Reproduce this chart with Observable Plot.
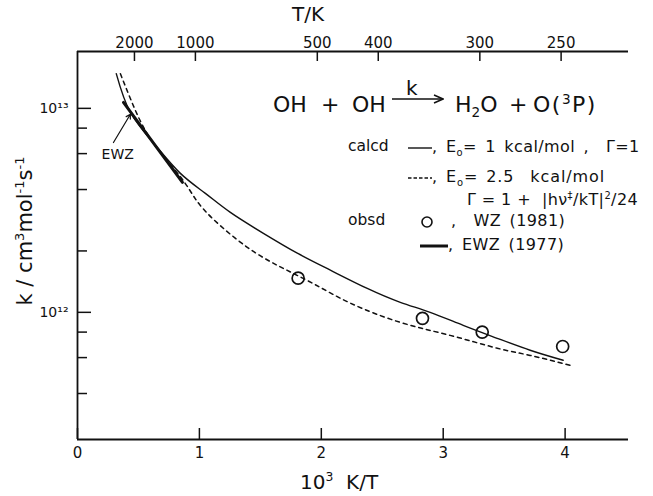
<!DOCTYPE html>
<html><head><meta charset="utf-8">
<script src="https://cdn.jsdelivr.net/npm/d3@7"></script>
<script src="https://cdn.jsdelivr.net/npm/@observablehq/plot@0.6"></script>
<style>
html,body{margin:0;padding:0;background:#fff;}
#wrap{position:relative;width:653px;height:496px;font-family:"DejaVu Sans",sans-serif;color:#111;overflow:hidden;}
#wrap > svg.chart{position:absolute;left:0;top:0;}
.t{position:absolute;white-space:nowrap;line-height:1;transform:translateY(-50%);}
.t svg{display:inline-block;vertical-align:middle;}
.lg{letter-spacing:0.4px;word-spacing:3px;}
sub,sup{font-size:62%;line-height:0;}
</style></head><body><div id="wrap"></div>
<script>
// 10^3 K/T positions and rate constants k (cm^3 mol^-1 s^-1)
const solidX = [0.318, 0.434, 0.639, 0.844, 1.049, 1.254, 1.525, 1.803, 2.074, 2.377, 2.648, 2.893, 3.164, 3.443, 3.713, 3.984];
const solidK = [14.8e12, 9.55e12, 6.59e12, 4.80e12, 3.83e12, 3.09e12, 2.44e12, 1.95e12, 1.61e12, 1.31e12, 1.12e12, 1.00e12, 0.863e12, 0.746e12, 0.652e12, 0.582e12];
const dashX = [0.352, 0.475, 0.626, 0.844, 0.967, 1.117, 1.39, 1.664, 1.937, 2.238, 2.648, 3.057, 3.443, 3.713, 4.041];
const dashK = [14.79e12, 9.77e12, 6.71e12, 4.62e12, 3.60e12, 2.85e12, 2.09e12, 1.67e12, 1.38e12, 1.11e12, 0.893e12, 0.771e12, 0.667e12, 0.615e12, 0.550e12];
const obsX = [1.81, 2.83, 3.32, 3.98];
const obsK = [1.47e12, 0.935e12, 0.80e12, 0.68e12];
const ewzX = [0.377, 0.861];
const ewzK = [1.07e13, 4.34e12];
// tick values / labels
const xTicks = [0, 1, 2, 3, 4];
const topT = [2000, 1000, 500, 400, 300, 250];
const yMajor = [1e12, 1e13];
const yMajorLabels = ["10\u00B9\u00B2", "10\u00B9\u00B3"];
const yMinor = [4e11, 6e11, 8e11, 2e12, 4e12, 6e12, 8e12];
// annotation (EWZ pointer) in data coordinates
const ewzArrowFrom = [0.295, 6.8e12];
const ewzArrowTo = [0.434, 9.35e12];
const ewzLabelAt = [0.33, 5.95e12];

const solid = solidX.map((x, i) => ({x, k: solidK[i]}));
const dashed = dashX.map((x, i) => ({x, k: dashK[i]}));
const obs = obsX.map((x, i) => ({x, k: obsK[i]}));
const ewz = ewzX.map((x, i) => ({x, k: ewzK[i]}));
const topPos = topT.map(t => 1000 / t);
const yDom = [2.38e11, 1.9e13];
const ink = "#111";
const W = 653, H = 496, mL = 77, mR = 25, mT = 51, mB = 57;
const fw = W - mL - mR, fh = H - mT - mB;

const chart = Plot.plot({
  width: W, height: H,
  marginLeft: mL, marginRight: mR, marginTop: mT, marginBottom: mB,
  className: "chart",
  style: {fontFamily: "DejaVu Sans, sans-serif", color: ink, background: "transparent", overflow: "visible"},
  x: {domain: [0, 4.52]},
  y: {type: "log", domain: yDom},
  marks: [
    Plot.ruleX([0], {stroke: ink, strokeWidth: 1.8}),
    Plot.ruleY(yDom, {stroke: ink, strokeWidth: 1.8}),
    // inward tick marks
    Plot.ruleX(xTicks, {x: d => d, insetTop: fh - 11, stroke: ink, strokeWidth: 1.5}),
    Plot.ruleX(topPos, {x: d => d, insetBottom: fh - 10, dx: -4, stroke: ink, strokeWidth: 1.5}),
    Plot.ruleY(yMajor, {y: d => d, insetRight: fw - 14, stroke: ink, strokeWidth: 1.5}),
    Plot.ruleY(yMinor, {y: d => d, insetRight: fw - 10, stroke: ink, strokeWidth: 1.5}),
    // tick labels
    Plot.axisX(xTicks, {anchor: "bottom", tickSize: 0, tickPadding: 8, fontSize: 15, label: null, tickFormat: d => String(d)}),
    Plot.axisX(topPos, {anchor: "top", tickSize: 0, tickPadding: 4, dx: -4, fontSize: 15, label: null, tickFormat: d => String(topT[topPos.indexOf(d)])}),
    Plot.axisY(yMajor, {anchor: "left", tickSize: 0, tickPadding: 9, fontSize: 14, label: null, tickFormat: d => yMajorLabels[yMajor.indexOf(d)]}),
    // data
    Plot.line(solid, {x: "x", y: "k", curve: "natural", stroke: ink, strokeWidth: 1.4}),
    Plot.line(dashed, {x: "x", y: "k", curve: "natural", stroke: ink, strokeWidth: 1.5, strokeDasharray: "4,4"}),
    Plot.line(ewz, {x: "x", y: "k", stroke: ink, strokeWidth: 3}),
    Plot.dot(obs, {x: "x", y: "k", r: 6, stroke: ink, strokeWidth: 1.7, fill: "none"}),
    Plot.arrow([0], {x1: () => ewzArrowFrom[0], y1: () => ewzArrowFrom[1], x2: () => ewzArrowTo[0], y2: () => ewzArrowTo[1], stroke: ink, strokeWidth: 1.2, headLength: 6}),
    Plot.text([0], {x: () => ewzLabelAt[0], y: () => ewzLabelAt[1], text: () => "EWZ", fontSize: 14, fill: ink})
  ]
});
const wrap = document.getElementById("wrap");
wrap.appendChild(chart);

function add(html, left, top, size, extra, cls) {
  const d = document.createElement("div");
  d.className = "t" + (cls ? " " + cls : "");
  d.style.left = left + "px";
  d.style.top = top + "px";
  d.style.fontSize = size + "px";
  if (extra) d.style.cssText += extra;
  d.innerHTML = html;
  wrap.appendChild(d);
  return d;
}
const solidSample = '<svg width="24" height="10"><line x1="0" y1="5" x2="24" y2="5" stroke="#111" stroke-width="1.4"/></svg>';
const dashSample = '<svg width="24" height="10"><line x1="0" y1="5" x2="24" y2="5" stroke="#111" stroke-width="1.5" stroke-dasharray="3.5,2"/></svg>';
const thickSample = '<svg width="28" height="10"><line x1="0" y1="5" x2="28" y2="5" stroke="#111" stroke-width="3"/></svg>';
const circleSample = '<svg width="14" height="14"><circle cx="7" cy="7" r="5" fill="none" stroke="#111" stroke-width="1.6"/></svg>';
const rxArrow = '<svg width="52" height="14"><line x1="0" y1="7" x2="50" y2="7" stroke="#111" stroke-width="1.5"/><path d="M42,3 L51,7 L42,11" fill="none" stroke="#111" stroke-width="1.5"/></svg>';

// axis titles
add("T/K", 292, 14, 20);
add("10<sup>3</sup>&nbsp;&nbsp;K/T", 300, 482, 20);
add("k / cm<sup>3</sup>mol<sup>-1</sup>s<sup>-1</sup>", 25, 231, 21, "transform:translate(-50%,-50%) rotate(-90deg);");
// reaction
add("OH", 273, 105, 22);
add("+", 321, 105, 22);
add("OH", 352, 105, 22);
add(rxArrow, 392, 98, 22);
add("k", 406, 88, 20);
add("H<sub>2</sub>O", 455, 105, 22);
add("+", 509, 105, 22);
add("O(<sup>3</sup>P)", 533, 105, 22, "letter-spacing:1.5px;");
// legend
add("calcd", 348, 147, 15.5);
add(solidSample + ", E<sub>o</sub>= 1 kcal/mol ,&nbsp; &Gamma;=1", 408, 147, 16, "", "lg");
add(dashSample + ", E<sub>o</sub>= 2.5 &nbsp;kcal/mol", 408, 177, 16, "letter-spacing:0.9px;word-spacing:2px;");
add("&Gamma; = 1 + &nbsp;|h&nu;<sup>&Dagger;</sup>/kT|<sup>2</sup>/24", 467, 200, 16, "letter-spacing:0.4px;");
add("obsd", 348, 221, 15.5);
add(circleSample + "&nbsp; , &nbsp;WZ (1981)", 420, 221, 16, "", "lg");
add(thickSample + ", EWZ (1977)", 420, 245, 16, "", "lg");
</script></body></html>
